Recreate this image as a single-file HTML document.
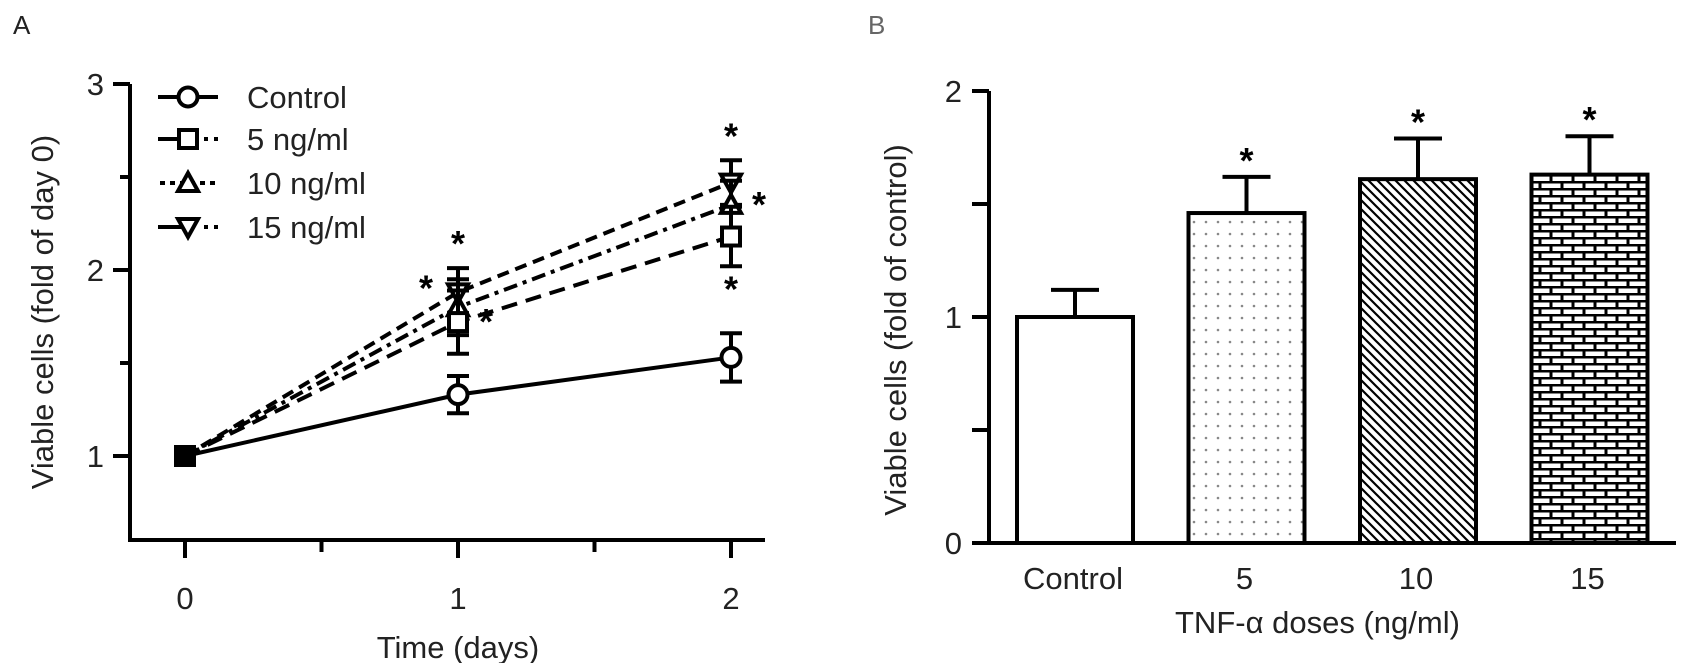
<!DOCTYPE html>
<html><head><meta charset="utf-8"><style>
html,body{margin:0;padding:0;background:#fff;}
svg{display:block;font-family:"Liberation Sans",Arial,sans-serif;}
</style></head><body>
<svg id="fig" width="1691" height="663" viewBox="0 0 1691 663" xmlns="http://www.w3.org/2000/svg">
<defs>
<pattern id="dots" width="12" height="12" patternUnits="userSpaceOnUse"><circle cx="6" cy="6" r="1.3" fill="#888"/></pattern>
<pattern id="diag" width="9" height="9" patternUnits="userSpaceOnUse"><path d="M-2,-2 L11,11 M-2,7 L2,11 M7,-2 L11,2" stroke="#000" stroke-width="2.2"/></pattern>
<pattern id="brick" width="22" height="14" patternUnits="userSpaceOnUse"><rect width="22" height="14" fill="#000"/><rect x="1.5" y="1.5" width="19" height="4.5" fill="#fff"/><rect x="-9.5" y="8.5" width="19" height="4.5" fill="#fff"/><rect x="12.5" y="8.5" width="19" height="4.5" fill="#fff"/></pattern>
</defs>
<text x="13" y="34" font-size="26" fill="#222">A</text>
<text x="868" y="34" font-size="26" fill="#666">B</text>
<g id="chartA"></g>
<g id="chartB"></g>
</svg>
<script>
// ---- Chart A data ----
const daysA = [0, 1, 2];
const xTicksA = ["0", "1", "2"];
const yTicksA = [1, 2, 3];
const seriesNamesA = ["Control", "5 ng/ml", "10 ng/ml", "15 ng/ml"];
const controlMean = [1, 1.33, 1.53];
const controlErr = [0, 0.1, 0.13];
const ng5Mean = [1, 1.72, 2.18];
const ng5Err = [0, 0.17, 0.16];
const ng10Mean = [1, 1.8, 2.35];
const ng10Err = [0, 0.15, 0.13];
const ng15Mean = [1, 1.88, 2.47];
const ng15Err = [0, 0.13, 0.12];
// ---- Chart B data ----
const catsB = ["Control", "5", "10", "15"];
const meansB = [1.0, 1.46, 1.61, 1.63];
const errsB = [0.12, 0.16, 0.18, 0.17];
const yTicksB = [0, 1, 2];

const FS = 31;
const NS = "http://www.w3.org/2000/svg";
function mk(parent, tag, attrs, text){
  const e = document.createElementNS(NS, tag);
  for (const k in attrs) e.setAttribute(k, attrs[k]);
  if (text !== undefined) e.textContent = text;
  parent.appendChild(e);
  return e;
}
// ---------- Chart A ----------
const A = document.getElementById('chartA');
const xA = d => 185 + d * 273;
const yA = v => 456 - (v - 1) * 186;
const axA = mk(A, 'path', {d:`M130,${yA(3)} V540 H765`, fill:'none', stroke:'#000', 'stroke-width':4});


[1, 1.5, 2, 2.5, 3].forEach(v => {
  const major = Number.isInteger(v);
  const t = mk(A, 'line', {x1:130, x2: major ? 113 : 120, y1:yA(v), y2:yA(v), stroke:'#000', 'stroke-width':4});
  
  
});
yTicksA.forEach(v => {
  const t = mk(A, 'text', {x:104, y:yA(v) + 11, 'font-size':FS, 'text-anchor':'end', fill:'#222'}, String(v));
  
  
});
[0, 0.5, 1, 1.5, 2].forEach(d => {
  const major = Number.isInteger(d);
  const t = mk(A, 'line', {x1:xA(d), x2:xA(d), y1:540, y2: major ? 558 : 552, stroke:'#000', 'stroke-width':4});
  
  
});
daysA.forEach((d, i) => {
  const t = mk(A, 'text', {x:xA(d), y:609, 'font-size':FS, 'text-anchor':'middle', fill:'#222'}, xTicksA[i]);
  
  
});
const xtA = mk(A, 'text', {x:458, y:658, 'font-size':FS, 'text-anchor':'middle', fill:'#222'}, 'Time (days)');


const ytA = mk(A, 'text', {x:0, y:0, 'font-size':FS, 'text-anchor':'middle', fill:'#222', transform:'translate(53,312) rotate(-90)'}, 'Viable cells (fold of day 0)');



const dashes = ["", "16 9", "14 6 4 6", "12 7"];
const allMeans = [controlMean, ng5Mean, ng10Mean, ng15Mean];
const allErrs = [controlErr, ng5Err, ng10Err, ng15Err];
function marker(g, kind, cx, cy){
  let m;
  if (kind === 0) m = mk(g, 'circle', {cx, cy, r:9.5, fill:'#fff', stroke:'#000', 'stroke-width':4});
  else if (kind === 1) m = mk(g, 'rect', {x:cx-9, y:cy-9, width:18, height:18, fill:'#fff', stroke:'#000', 'stroke-width':4});
  else if (kind === 2) m = mk(g, 'path', {d:`M${cx},${cy-10} L${cx+10},${cy+8} L${cx-10},${cy+8} Z`, fill:'#fff', stroke:'#000', 'stroke-width':4});
  else m = mk(g, 'path', {d:`M${cx},${cy+10} L${cx+10},${cy-8} L${cx-10},${cy-8} Z`, fill:'#fff', stroke:'#000', 'stroke-width':4});
  return m;
}
[3, 2, 1, 0].forEach(s => {
  const g = mk(A, 'g', {});
  
  
  const means = allMeans[s], errs = allErrs[s];
  const pts = daysA.map((d, i) => `${xA(d)},${yA(means[i])}`).join(' ');
  const ln = mk(g, 'polyline', {points:pts, fill:'none', stroke:'#000', 'stroke-width':4, 'stroke-dasharray':dashes[s]});
  
  
  daysA.forEach((d, i) => {
    if (errs[i] > 0) {
      const x = xA(d), y1 = yA(means[i] + errs[i]), y2 = yA(means[i] - errs[i]);
      const eb = mk(g, 'path', {d:`M${x},${y1} V${y2} M${x-11},${y1} H${x+11} M${x-11},${y2} H${x+11}`, stroke:'#000', 'stroke-width':4, fill:'none'});
      
      
    }
    if (d === 0) return;
    const m = marker(g, s, xA(d), yA(means[i]));
    
    
  });
});
const d0 = mk(A, 'rect', {x:xA(0)-11, y:yA(1)-11, width:22, height:22, fill:'#000'});


// asterisks chart A
[[1, ng15Mean[1] + ng15Err[1], 0, -12], [1, ng15Mean[1], -32, 8], [1, ng5Mean[1], 28, 12],
 [2, ng15Mean[2] + ng15Err[2], 0, -12], [2, ng10Mean[2], 28, 12], [2, ng5Mean[2] - ng5Err[2], 0, 35]].forEach(a => {
  const t = mk(A, 'text', {x:xA(a[0]) + a[2], y:yA(a[1]) + a[3], 'font-size':36, 'font-weight':'bold', 'text-anchor':'middle'}, '*');
  
  
});
// legend
const legendY = [97, 139, 183, 227];
seriesNamesA.forEach((n, i) => {
  const y = legendY[i];
  const g = mk(A, 'g', {});
  
  
  if (i === 0) mk(g, 'line', {x1:158, x2:218, y1:y, y2:y, stroke:'#000', 'stroke-width':4});
  else if (i === 2) mk(g, 'line', {x1:160, x2:220, y1:y, y2:y, stroke:'#000', 'stroke-width':4, 'stroke-dasharray':'5 5'});
  else { mk(g, 'line', {x1:158, x2:188, y1:y, y2:y, stroke:'#000', 'stroke-width':4}); mk(g, 'line', {x1:204, x2:220, y1:y, y2:y, stroke:'#000', 'stroke-width':4, 'stroke-dasharray':'4 6'}); }
  marker(g, i, 188, y);
  mk(g, 'text', {x:247, y:y + 11, 'font-size':FS, fill:'#222'}, n);
});

// ---------- Chart B ----------
const B = document.getElementById('chartB');
const xB = i => 1075 + i * 171.5;
const yB = v => 543 - v * 226;
const bw = 116;
const fills = ['#fff', 'url(#dots)', 'url(#diag)', 'url(#brick)'];
catsB.forEach((c, i) => {
  const g = mk(B, 'g', {});
  
  
  const x = xB(i), top = yB(meansB[i]), cap = yB(meansB[i] + errsB[i]);
  mk(g, 'path', {d:`M${x},${top} V${cap} M${x-24},${cap} H${x+24}`, stroke:'#000', 'stroke-width':4, fill:'none'});
  mk(g, 'rect', {x:x - bw/2, y:top, width:bw, height:543 - top, fill:fills[i], stroke:'#000', 'stroke-width':4});
  if (i > 0) {
    const t = mk(B, 'text', {x:x, y:cap - 4, 'font-size':36, 'font-weight':'bold', 'text-anchor':'middle'}, '*');
    
    
  }
  const l = mk(B, 'text', {x:x - 2, y:589, 'font-size':FS, 'text-anchor':'middle', fill:'#222'}, c);
  
  
});
const axB = mk(B, 'path', {d:`M989,${yB(2)} V543 H1676`, fill:'none', stroke:'#000', 'stroke-width':4});


[0, 0.5, 1, 1.5, 2].forEach(v => {
  const t = mk(B, 'line', {x1:989, x2:972, y1:yB(v), y2:yB(v), stroke:'#000', 'stroke-width':4});
  
  
});
yTicksB.forEach(v => {
  const t = mk(B, 'text', {x:962, y:yB(v) + 11, 'font-size':FS, 'text-anchor':'end', fill:'#222'}, String(v));
  
  
});
const xtB = mk(B, 'text', {x:1175, y:633, 'font-size':FS, 'text-anchor':'start', fill:'#222'}, 'TNF-α doses (ng/ml)');


const ytB = mk(B, 'text', {x:0, y:0, 'font-size':FS, 'text-anchor':'middle', fill:'#222', transform:'translate(906,330) rotate(-90)'}, 'Viable cells (fold of control)');


</script>
</body></html>
